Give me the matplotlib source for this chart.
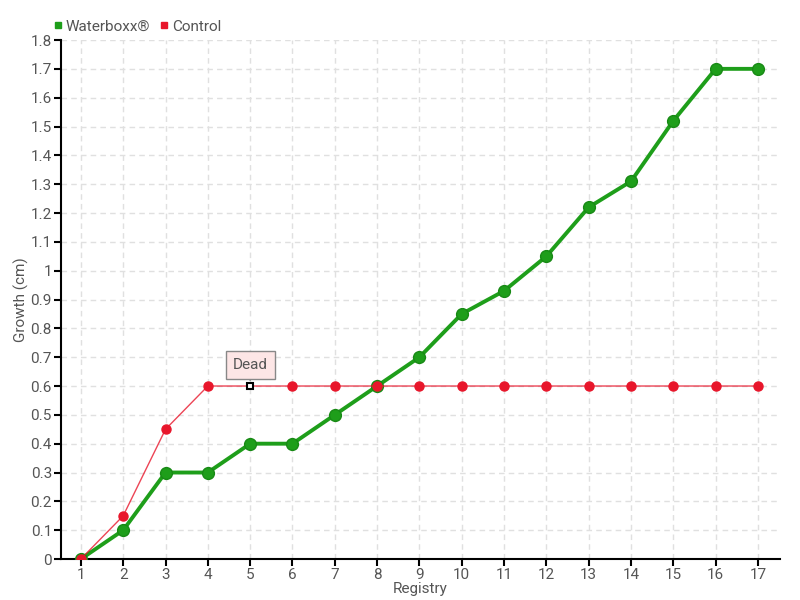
import matplotlib
matplotlib.use("Agg")
import matplotlib.pyplot as plt
from matplotlib.lines import Line2D

registry = list(range(1, 18))
waterboxx = [0, 0.1, 0.3, 0.3, 0.4, 0.4, 0.5, 0.6, 0.7, 0.85, 0.93, 1.05, 1.22, 1.31, 1.52, 1.70, 1.70]
control = [0, 0.15, 0.45, 0.6, 0.6, 0.6, 0.6, 0.6, 0.6, 0.6, 0.6, 0.6, 0.6, 0.6, 0.6, 0.6, 0.6]
dead_idx = 4
yticks = [round(i * 0.1, 1) for i in range(19)]
ylabels = ["0"] + ["%.1f" % v for v in yticks[1:10]] + ["1"] + ["%.1f" % v for v in yticks[11:]]

plt.rcParams['font.family'] = ['Roboto', 'DejaVu Sans']
green = "#1e9e1a"
red = "#e8162b"
txt = "#555555"

fig = plt.figure(figsize=(8, 6), dpi=100)
ax = fig.add_axes([0.07625, 0.0683, 0.89875, 0.865])

ax.plot(registry, waterboxx, color=green, lw=2.8, marker="o", ms=8.5,
        markerfacecolor=green, markeredgecolor="#188a15", zorder=3)
red_x = [x for i, x in enumerate(registry) if i != dead_idx]
red_y = [y for i, y in enumerate(control) if i != dead_idx]
ax.plot(registry, control, color=red, lw=1, alpha=0.8, zorder=4)
ax.plot(red_x, red_y, ls="none", marker="o", ms=6.5, color=red, zorder=5)
ax.plot(registry[dead_idx], control[dead_idx], ls="none", marker="s", ms=4.5,
        markerfacecolor="white", markeredgecolor="black", markeredgewidth=1.5, zorder=6)
ax.annotate("Dead", xy=(registry[dead_idx], control[dead_idx]), xytext=(0, 15),
            textcoords="offset points", ha="center", va="center", fontsize=11, color=txt,
            bbox=dict(boxstyle="square,pad=0.45", fc="#fde6e6", ec="#888888", lw=1),
            arrowprops=dict(arrowstyle="-", color="#888888", lw=1, shrinkA=0, shrinkB=4),
            zorder=7)

ax.set_xlim(0.53, 17.52)
ax.set_ylim(0, 1.8)
ax.set_xticks(registry)
ax.set_yticks(yticks)
ax.set_yticklabels(ylabels)
ax.grid(True, color="#e0e0e0", ls=(0, (4, 3)), lw=1)
ax.set_axisbelow(True)
for s in ["top", "right"]:
    ax.spines[s].set_visible(False)
ax.spines["left"].set_linewidth(1.5)
ax.spines["bottom"].set_linewidth(1.5)
ax.tick_params(axis="both", colors="black", labelcolor=txt, labelsize=11, length=5, width=1.5, pad=1.5)
ax.set_xlabel("Registry", color=txt, fontsize=11, labelpad=0)
ax.set_ylabel("Growth (cm)", color=txt, fontsize=11, labelpad=1)

handles = [Line2D([], [], ls="none", marker="s", ms=5, color=green),
           Line2D([], [], ls="none", marker="s", ms=5, color=red)]
fig.legend(handles, ["Waterboxx®", "Control"], loc="upper left", bbox_to_anchor=(0.05, 0.99),
           ncol=2, frameon=False, fontsize=11, handlelength=0.6, handletextpad=0.2,
           columnspacing=0.6, labelcolor=txt)

fig.savefig("out.png", dpi=100)
